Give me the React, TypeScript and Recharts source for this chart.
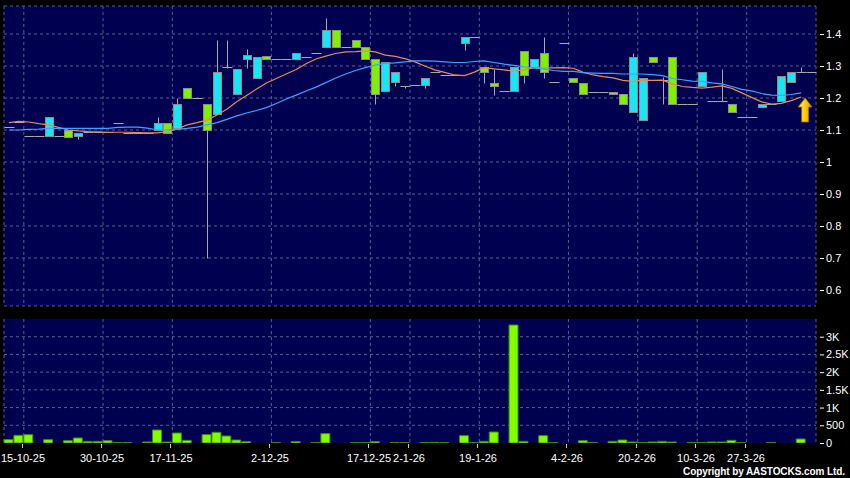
import React from "react";
import {
  Bar,
  CartesianGrid,
  ComposedChart,
  Line,
  ReferenceDot,
  XAxis,
  YAxis,
} from "recharts";

// price axis range and volume axis range
const PRICE_MIN = 0.55;
const PRICE_MAX = 1.4875;
const VOL_MAX = 3500;

const priceTicks = [0.6, 0.7, 0.8, 0.9, 1, 1.1, 1.2, 1.3, 1.4];
const volumeTicks = [0, 500, 1000, 1500, 2000, 2500, 3000];

// date labels sit on the slot boundary before the labelled session
const tickSlots = [2, 10, 17, 27, 37, 41, 48, 57, 64, 70, 75];
const tickLabels = [
  "15-10-25",
  "30-10-25",
  "17-11-25",
  "2-12-25",
  "17-12-25",
  "2-1-26",
  "19-1-26",
  "4-2-26",
  "20-2-26",
  "10-3-26",
  "27-3-26",
];

// [open, high, low, close] per session
const ohlc: [number, number, number, number][] = [
  [1.108, 1.108, 1.108, 1.108],
  [1.125, 1.125, 1.125, 1.125],
  [1.08, 1.08, 1.08, 1.08],
  [1.08, 1.08, 1.08, 1.08],
  [1.08, 1.14, 1.08, 1.14],
  [1.08, 1.08, 1.08, 1.08],
  [1.1, 1.1, 1.079, 1.079],
  [1.081, 1.09, 1.072, 1.09],
  [1.095, 1.095, 1.095, 1.095],
  [1.095, 1.095, 1.095, 1.095],
  // 10
  [1.095, 1.095, 1.095, 1.095],
  [1.121, 1.121, 1.121, 1.121],
  [1.091, 1.091, 1.091, 1.091],
  [1.091, 1.091, 1.091, 1.091],
  [1.091, 1.091, 1.091, 1.091],
  [1.1, 1.14, 1.1, 1.121],
  [1.121, 1.121, 1.09, 1.09],
  [1.107, 1.199, 1.107, 1.18],
  [1.23, 1.23, 1.199, 1.199],
  [1.199, 1.199, 1.199, 1.199],
  // 20
  [1.18, 1.18, 0.7, 1.1],
  [1.149, 1.381, 1.149, 1.28],
  [1.298, 1.381, 1.293, 1.298],
  [1.212, 1.29, 1.212, 1.29],
  [1.323, 1.352, 1.293, 1.333],
  [1.263, 1.329, 1.263, 1.329],
  [1.33, 1.33, 1.321, 1.321],
  [1.321, 1.321, 1.321, 1.321],
  [1.321, 1.321, 1.321, 1.321],
  [1.321, 1.34, 1.321, 1.34],
  // 30
  [1.329, 1.329, 1.329, 1.329],
  [1.34, 1.34, 1.34, 1.34],
  [1.36, 1.449, 1.36, 1.4125],
  [1.4125, 1.4125, 1.36, 1.36],
  [1.36, 1.36, 1.36, 1.36],
  [1.381, 1.381, 1.36, 1.36],
  [1.36, 1.36, 1.321, 1.321],
  [1.321, 1.321, 1.18, 1.212],
  [1.222, 1.312, 1.222, 1.312],
  [1.251, 1.28, 1.238, 1.28],
  // 40
  [1.238, 1.238, 1.23, 1.238],
  [1.241, 1.241, 1.241, 1.241],
  [1.241, 1.262, 1.231, 1.262],
  [1.281, 1.281, 1.281, 1.281],
  [1.272, 1.272, 1.272, 1.272],
  [1.272, 1.272, 1.272, 1.272],
  [1.371, 1.39, 1.35, 1.39],
  [1.39, 1.39, 1.39, 1.39],
  [1.298, 1.298, 1.248, 1.28],
  [1.248, 1.29, 1.209, 1.238],
  // 50
  [1.222, 1.222, 1.222, 1.222],
  [1.222, 1.298, 1.222, 1.298],
  [1.348, 1.348, 1.248, 1.272],
  [1.298, 1.321, 1.298, 1.321],
  [1.34, 1.39, 1.262, 1.28],
  [1.249, 1.249, 1.249, 1.249],
  [1.371, 1.371, 1.371, 1.371],
  [1.262, 1.262, 1.249, 1.249],
  [1.248, 1.248, 1.212, 1.212],
  [1.22, 1.22, 1.22, 1.22],
  // 60
  [1.22, 1.22, 1.22, 1.22],
  [1.22, 1.22, 1.212, 1.212],
  [1.212, 1.212, 1.18, 1.18],
  [1.157, 1.34, 1.157, 1.329],
  [1.131, 1.262, 1.131, 1.262],
  [1.329, 1.329, 1.312, 1.312],
  [1.255, 1.267, 1.18, 1.255],
  [1.329, 1.329, 1.18, 1.18],
  [1.18, 1.18, 1.18, 1.18],
  [1.18, 1.18, 1.18, 1.18],
  // 70
  [1.238, 1.28, 1.238, 1.28],
  [1.191, 1.191, 1.191, 1.191],
  [1.191, 1.29, 1.191, 1.191],
  [1.18, 1.18, 1.157, 1.157],
  [1.14, 1.14, 1.14, 1.14],
  [1.14, 1.14, 1.14, 1.14],
  [1.171, 1.18, 1.171, 1.18],
  [1.18, 1.18, 1.18, 1.18],
  [1.191, 1.27, 1.191, 1.27],
  [1.249, 1.28, 1.249, 1.28],
  // 80
  [1.28, 1.298, 1.28, 1.28],
  [1.28, 1.28, 1.28, 1.28],
];

const maShort: (number | null)[] = [
  1.123, 1.127, 1.125, 1.12, 1.116, 1.108, 1.1, 1.097, 1.095, 1.094,
  1.093, 1.093, 1.093, 1.092, 1.091, 1.091, 1.095, 1.103, 1.116, 1.123,
  1.131, 1.147, 1.165, 1.188, 1.208, 1.228, 1.247, 1.261, 1.275, 1.289,
  1.307, 1.322, 1.331, 1.339, 1.344, 1.345, 1.347, 1.344, 1.334, 1.33,
  1.323, 1.313, 1.3, 1.288, 1.28, 1.272, 1.27, 1.281, 1.295, 1.291,
  1.288, 1.284, 1.288, 1.294, 1.294, 1.294, 1.295, 1.293, 1.28, 1.272,
  1.267, 1.263, 1.255, 1.252, 1.256, 1.255, 1.256, 1.244, 1.236, 1.233,
  1.231, 1.234, 1.238, 1.23, 1.216, 1.202, 1.188, 1.181, 1.183, 1.192,
  1.203, null,
];

const maLong: (number | null)[] = [
  1.1, 1.1, 1.102, 1.103, 1.105, 1.105, 1.105, 1.105, 1.105, 1.105,
  1.105, 1.108, 1.109, 1.109, 1.106, 1.1, 1.1, 1.102, 1.105, 1.109,
  1.116, 1.123, 1.133, 1.144, 1.153, 1.161, 1.17, 1.183, 1.197, 1.209,
  1.222, 1.234, 1.248, 1.2625, 1.275, 1.286, 1.295, 1.303, 1.308, 1.31,
  1.313, 1.316, 1.316, 1.315, 1.313, 1.311, 1.311, 1.314, 1.316, 1.311,
  1.306, 1.302, 1.297, 1.294, 1.291, 1.286, 1.283, 1.283, 1.279, 1.278,
  1.277, 1.277, 1.275, 1.275, 1.275, 1.273, 1.27, 1.261, 1.257, 1.253,
  1.252, 1.247, 1.244, 1.236, 1.227, 1.222, 1.214, 1.209, 1.208, 1.211,
  1.216, null,
];

const volume = [
  95, 217, 236, 0, 95, 0, 66, 142, 47, 47,
  66, 15, 15, 0, 28, 368, 28, 283, 75, 0,
  236, 302, 198, 85, 38, 0, 0, 15, 0, 38,
  0, 15, 264, 0, 0, 10, 10, 38, 0, 10,
  10, 0, 15, 19, 10, 0, 208, 15, 47, 311,
  0, 3330, 47, 0, 208, 10, 0, 0, 66, 15,
  0, 47, 85, 28, 15, 28, 47, 28, 0, 15,
  15, 28, 28, 75, 15, 0, 0, 15, 0, 0,
  113, 0,
];

const data = ohlc.map(([open, high, low, close], i) => ({
  idx: i,
  pos: i + 0.5,
  open,
  high,
  low,
  close,
  maShort: maShort[i],
  maLong: maLong[i],
  volume: volume[i],
}));

const NAVY = "#000050";
const GRID = "#5c5c8e";
const CYAN = "#19e6f5";
const GREEN = "#80f000";
const WICK = "#a9a9a9";
const FONT = "'Liberation Sans', Arial, sans-serif";

function Candle(props: any) {
  const { x, y, width, height, payload } = props;
  const { open, high, low, close } = payload;
  const unit = height / (high - PRICE_MIN);
  const py = (v: number) => Math.round(y + (high - v) * unit) + 0.5;
  const cx = Math.round(x + width / 2) + 0.5;
  const top = py(Math.max(open, close));
  const bottom = py(Math.min(open, close));
  return (
    <g>
      {high > low && (
        <line x1={cx} x2={cx} y1={py(high)} y2={py(low)} stroke={WICK} />
      )}
      {open === close ? (
        <line x1={cx - 5} x2={cx + 5} y1={top} y2={top} stroke={WICK} />
      ) : (
        <rect
          x={cx - 4}
          y={top}
          width={8}
          height={bottom - top}
          fill={close > open ? CYAN : GREEN}
          stroke="#8c8c8c"
        />
      )}
    </g>
  );
}

function RightTick(props: any) {
  const { x, y, payload, fmt } = props;
  return (
    <g>
      <line x1={x + 4} x2={x + 8} y1={y + 0.5} y2={y + 0.5} stroke="#fff" />
      <text x={x + 10} y={y + 4} fill="#fff" fontSize={11} fontFamily={FONT}>
        {fmt(payload.value)}
      </text>
    </g>
  );
}

function DateTick(props: any) {
  const { x, y, payload } = props;
  const label = tickLabels[tickSlots.indexOf(payload.value)];
  const tx = Math.round(x) - 1.5;
  return (
    <g>
      <line x1={tx} x2={tx} y1={y + 1} y2={y + 5} stroke="#ccc" />
      <text x={tx + 0.5} y={y + 19} fill="#fff" fontSize={11} fontFamily={FONT} textAnchor="middle">
        {label}
      </text>
    </g>
  );
}

function Arrow(props: any) {
  const { cx, cy } = props;
  const ax = cx + 4;
  const pts = [
    [ax, cy - 12],
    [ax + 7, cy - 3],
    [ax + 3.5, cy - 3],
    [ax + 3.5, cy + 12],
    [ax - 3.5, cy + 12],
    [ax - 3.5, cy - 3],
    [ax - 7, cy - 3],
  ]
    .map((p) => p.join(","))
    .join(" ");
  return (
    <g>
      <defs>
        <linearGradient id="arrowFill" x1="0" x2="1" y1="0" y2="0">
          <stop offset="0" stopColor="#fff070" />
          <stop offset="0.5" stopColor="#ffcc00" />
          <stop offset="1" stopColor="#d89000" />
        </linearGradient>
      </defs>
      <polygon points={pts} fill="url(#arrowFill)" stroke="#9a6a00" strokeWidth={0.8} />
    </g>
  );
}

const priceFmt = (v: number) => String(v);
const volFmt = (v: number) => (v >= 1000 ? `${v / 1000}K` : String(v));

export default function App() {
  return (
    <div
      style={{
        position: "absolute",
        left: 0,
        top: 0,
        width: 850,
        height: 478,
        background: "#000",
        overflow: "hidden",
      }}
    >
      <div style={{ position: "absolute", left: 0, top: 0 }}>
        <ComposedChart
          width={850}
          height={310}
          data={data}
          margin={{ top: 6, right: 0, bottom: 4, left: 4 }}
          barCategoryGap={0}
        >
          <XAxis xAxisId="cat" dataKey="idx" type="category" height={0} hide />
          <XAxis
            xAxisId="num"
            dataKey="pos"
            type="number"
            domain={[0, data.length]}
            ticks={tickSlots}
            allowDataOverflow
            height={0}
            hide
          />
          <YAxis
            orientation="right"
            width={34}
            domain={[PRICE_MIN, PRICE_MAX]}
            ticks={priceTicks}
            interval={0}
            allowDataOverflow
            axisLine={false}
            tickLine={false}
            tickSize={0}
            tickMargin={0}
            tick={<RightTick fmt={priceFmt} />}
          />
          <CartesianGrid
            xAxisId="num"
            fill={NAVY}
            fillOpacity={1}
            stroke={GRID}
            strokeDasharray="3 3"
          />
          <Bar
            xAxisId="cat"
            dataKey="high"
            barSize={8}
            shape={<Candle />}
            isAnimationActive={false}
          />
          <Line
            xAxisId="cat"
            dataKey="maShort"
            stroke="#e8895c"
            strokeWidth={1.2}
            dot={false}
            activeDot={false}
            isAnimationActive={false}
          />
          <Line
            xAxisId="cat"
            dataKey="maLong"
            stroke="#3ea2ff"
            strokeWidth={1.2}
            dot={false}
            activeDot={false}
            isAnimationActive={false}
          />
          <ReferenceDot xAxisId="cat" x={80} y={1.1625} r={0} shape={<Arrow />} />
        </ComposedChart>
      </div>

      <div style={{ position: "absolute", left: 0, top: 310 }}>
        <ComposedChart
          width={850}
          height={168}
          data={data}
          margin={{ top: 9, right: 0, bottom: 0, left: 4 }}
          barCategoryGap={0}
        >
          <XAxis
            xAxisId="num"
            dataKey="pos"
            type="number"
            domain={[0, data.length]}
            ticks={tickSlots}
            allowDataOverflow
            height={35}
            axisLine={false}
            tickLine={false}
            tickSize={0}
            tickMargin={0}
            tick={<DateTick />}
            interval={0}
          />
          <XAxis xAxisId="cat" dataKey="idx" type="category" height={0} hide />
          <YAxis
            orientation="right"
            width={34}
            domain={[0, VOL_MAX]}
            ticks={volumeTicks}
            interval={0}
            allowDataOverflow
            axisLine={false}
            tickLine={false}
            tickSize={0}
            tickMargin={0}
            tick={<RightTick fmt={volFmt} />}
          />
          <CartesianGrid
            xAxisId="num"
            fill={NAVY}
            fillOpacity={1}
            stroke={GRID}
            strokeDasharray="3 3"
            horizontalValues={volumeTicks.slice(1)}
          />
          <Bar
            xAxisId="cat"
            dataKey="volume"
            barSize={9}
            fill="#80ff00"
            stroke="#3d8a12"
            isAnimationActive={false}
          />
        </ComposedChart>
      </div>

      <svg
        width={172}
        height={16}
        style={{ position: "absolute", left: 678, top: 462 }}
      >
        <text
          x={5}
          y={13}
          fill="#fff"
          fontSize={10}
          fontWeight="bold"
          fontFamily={FONT}
          textLength={162}
          lengthAdjust="spacing"
        >
          Copyright by AASTOCKS.com Ltd.
        </text>
      </svg>
    </div>
  );
}
